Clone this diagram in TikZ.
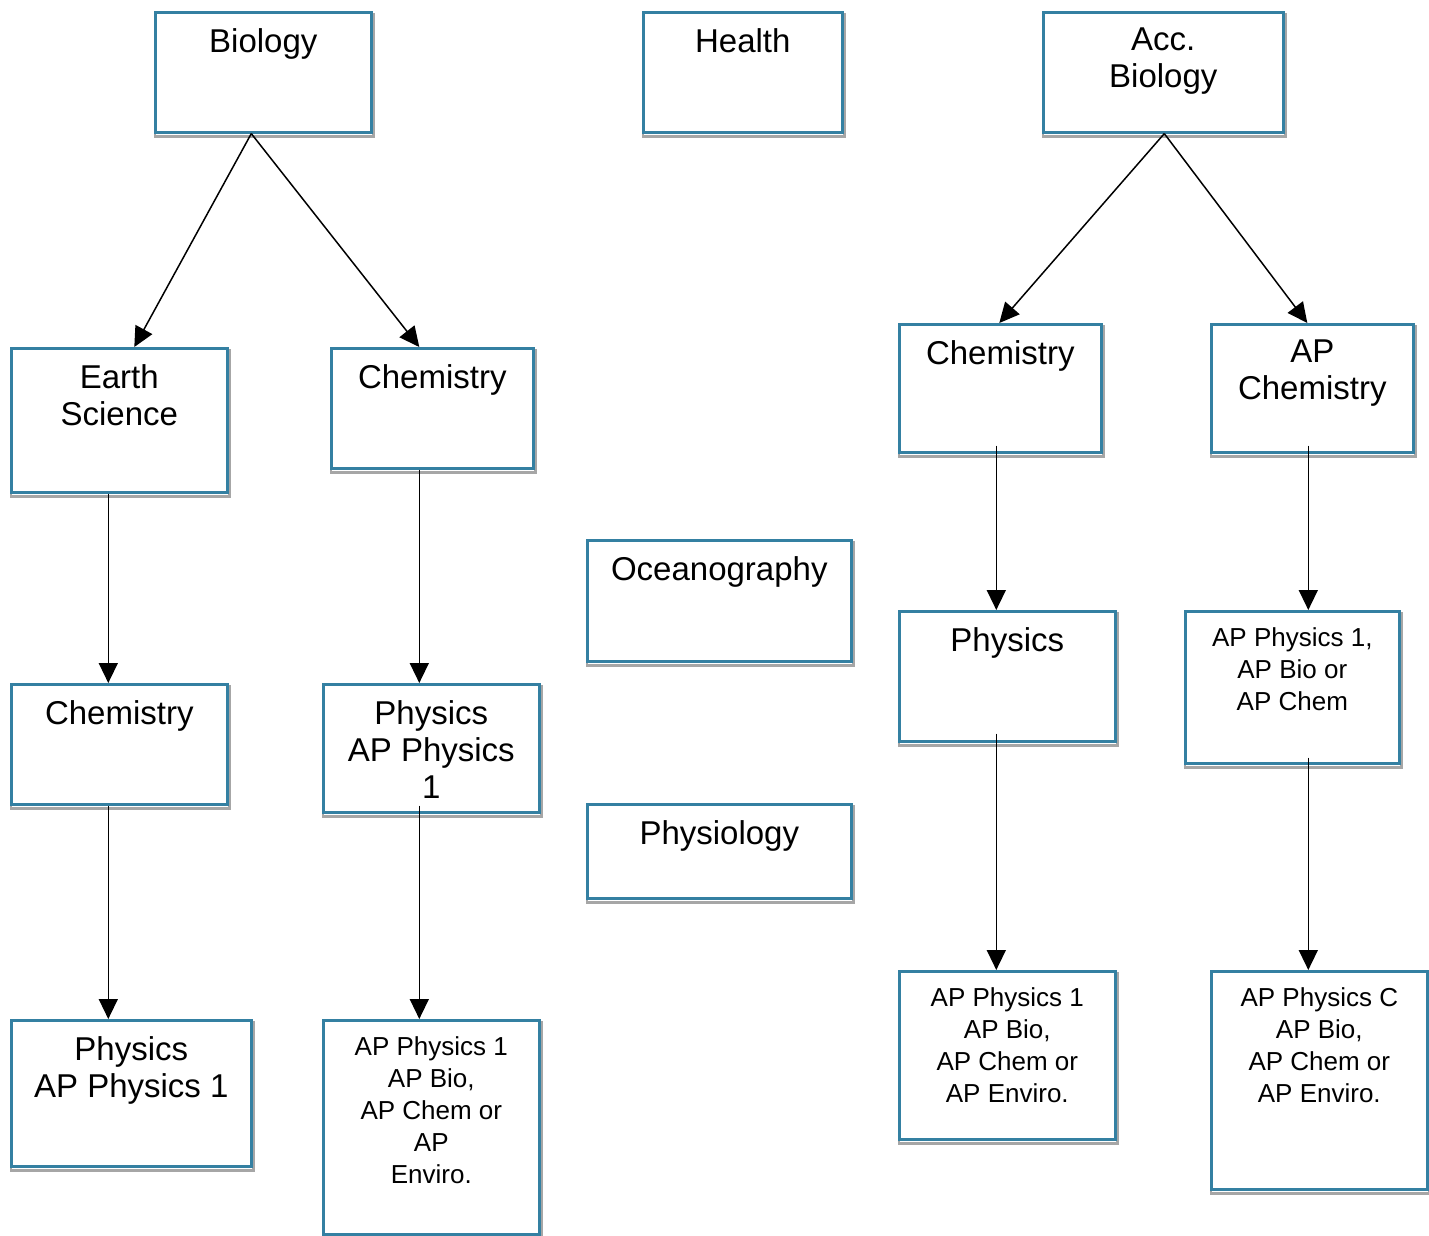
\documentclass[tikz,border=0pt]{standalone}
\usepackage{fontspec}
\setmainfont{Liberation Sans}
\usetikzlibrary{arrows.meta,backgrounds}

\definecolor{boxblue}{RGB}{52,128,162}
\definecolor{shadowgray}{RGB}{166,166,166}

\tikzset{
  boxframe/.style 2 args={draw=boxblue, line width=2.6pt, fill=white,
    minimum width=#1, minimum height=#2, anchor=north west, inner sep=0pt},
  course/.style n args={3}{boxframe={#1}{#2}, label={[coursetext]north:#3}},
  coursesmall/.style n args={3}{boxframe={#1}{#2}, label={[coursetextsmall]north:#3}},
  coursetext/.style={anchor=north, yshift=-17pt, inner sep=0pt, align=center,
    font=\fontsize{33}{37}\selectfont},
  coursetextsmall/.style={coursetext, font=\fontsize{26}{32}\selectfont},
  link/.style={line width=1.5pt, -{Triangle[length=20pt,width=19pt]}},
}

\begin{document}
\begin{tikzpicture}[x=1pt,y=-1pt]

\useasboundingbox (0,0) rectangle (1429,1235);

% top row
\node[course={216pt}{120pt}{Biology}] (bio) at (154,11) {};
\node[course={199pt}{120pt}{Health}] (health) at (642,11) {};
\node[course={240pt}{120pt}{Acc.\\Biology}] (accbio) at (1042,11) {};

% second row
\node[course={216pt}{144pt}{Earth\\Science}] (earth) at (10,347) {};
\node[course={202pt}{120pt}{Chemistry}] (chemA) at (330,347) {};
\node[course={202pt}{128pt}{Chemistry}] (chemB) at (898,323) {};
\node[course={202pt}{128pt}{AP\\Chemistry}] (apchem) at (1210,323) {};

% middle column
\node[course={264pt}{121pt}{Oceanography}] (ocean) at (586,539) {};
\node[course={264pt}{94pt}{Physiology}] (physio) at (586,803) {};

% third row
\node[course={216pt}{120pt}{Chemistry}] (chemC) at (10,683) {};
\node[course={216pt}{128pt}{Physics\\AP Physics\\1}] (physA) at (322,683) {};
\node[course={216pt}{130pt}{Physics}] (physB) at (898,610) {};
\node[coursesmall={214pt}{152pt}{AP Physics 1,\\AP Bio or\\AP Chem}] (apone) at (1184,610) {};

% bottom row
\node[course={240pt}{146pt}{Physics\\AP Physics 1}] (physC) at (10,1019) {};
\node[coursesmall={216pt}{214pt}{AP Physics 1\\AP Bio,\\AP Chem or\\AP\\Enviro.}] (apA) at (322,1019) {};
\node[coursesmall={216pt}{168pt}{AP Physics 1\\AP Bio,\\AP Chem or\\AP Enviro.}] (apB) at (898,970) {};
\node[coursesmall={216pt}{218pt}{AP Physics C\\AP Bio,\\AP Chem or\\AP Enviro.}] (apC) at (1210,970) {};

% gray shadow under every box
\begin{scope}[on background layer]
\foreach \n in {bio,health,accbio,earth,chemA,chemB,apchem,ocean,physio,chemC,physA,physB,apone,physC,apA,apB,apC}
{
    \draw[shadowgray, line width=2.6pt] ([xshift=1pt,yshift=-3pt]\n.south west) rectangle ([xshift=1pt,yshift=-3pt]\n.north east);
}
\end{scope}

\draw[link] ([xshift=-12pt]bio.south) -- ([xshift=15pt]earth.north);
\draw[link] ([xshift=-12pt]bio.south) -- ([xshift=-13pt]chemA.north);
\draw[link] ([xshift=1pt]accbio.south) -- ([xshift=-1pt]chemB.north);
\draw[link] ([xshift=1pt]accbio.south) -- ([xshift=-5pt]apchem.north);

\draw[link] ([xshift=-11pt]earth.south) -- ([xshift=-11pt]chemC.north);
\draw[link] ([xshift=-11pt]chemC.south) -- ([xshift=-23pt]physC.north);
\draw[link] ([xshift=-13pt]chemA.south) -- ([xshift=-12pt]physA.north);
\draw[link] ([xshift=-12pt,yshift=8pt]physA.south) -- ([xshift=-12pt]apA.north);

\draw[link] ([xshift=-4pt,yshift=8pt]chemB.south) -- ([xshift=-11pt]physB.north);
\draw[link] ([xshift=-11pt,yshift=9pt]physB.south) -- ([xshift=-11pt]apB.north);
\draw[link] ([xshift=-4pt,yshift=8pt]apchem.south) -- ([xshift=16pt]apone.north);
\draw[link] ([xshift=16pt,yshift=7pt]apone.south) -- ([xshift=-11pt]apC.north);

\end{tikzpicture}
\end{document}
